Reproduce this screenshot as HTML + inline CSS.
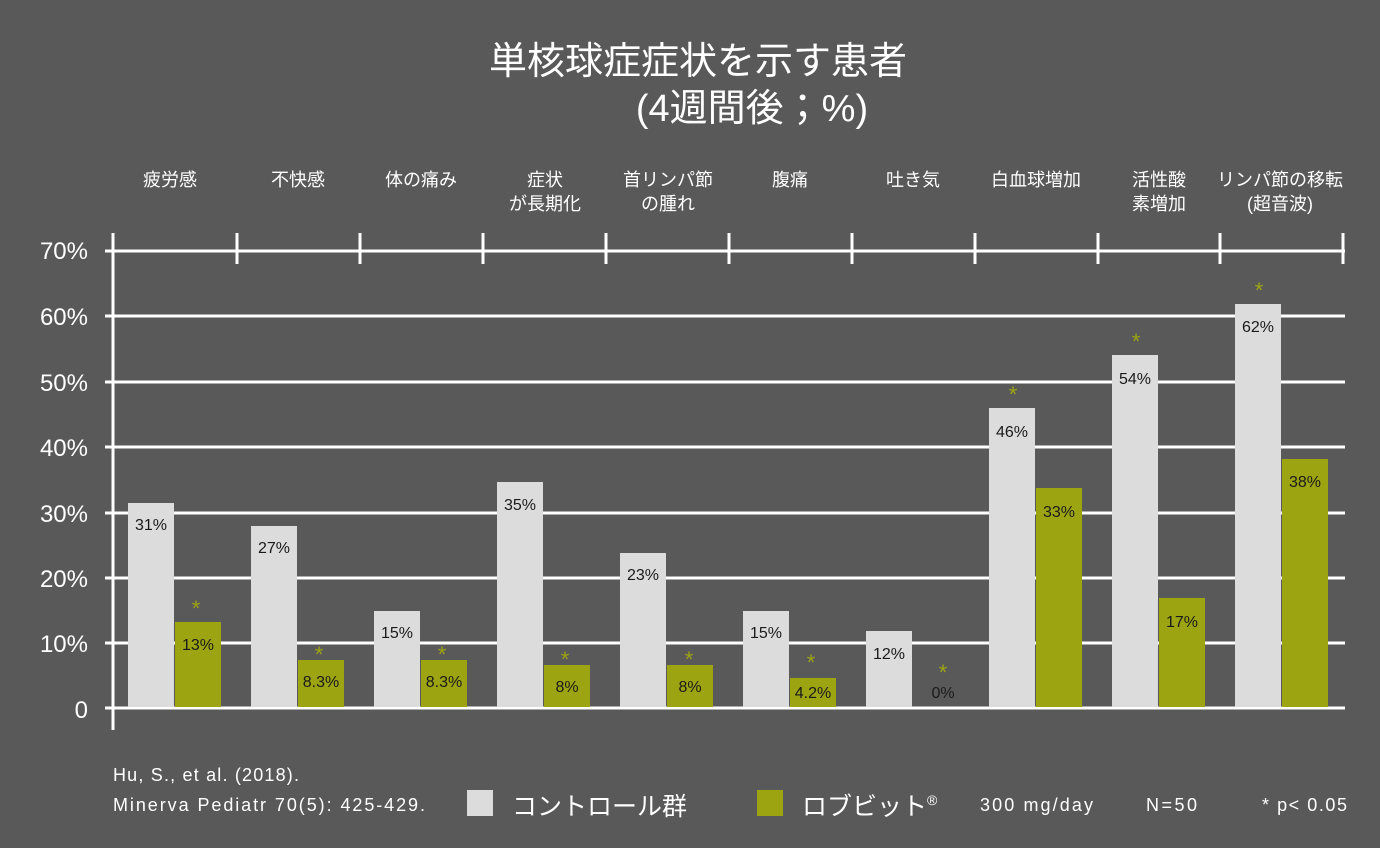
<!DOCTYPE html><html><head><meta charset="utf-8"><style>
body{margin:0;background:#59595a;}
svg text{font-family:"Liberation Sans","Noto Sans CJK JP",sans-serif;}
.n{font-family:"Liberation Sans Narrow","Liberation Sans",sans-serif;}
</style></head><body>
<svg width="1380" height="843" viewBox="0 0 1380 843">
<rect width="1380" height="843" fill="#59595a"/>
<text x="698" y="74" fill="#fff" font-size="38" text-anchor="middle">単核球症症状を示す患者</text>
<text x="752" y="121" fill="#fff" font-size="38" text-anchor="middle">(4週間後；%)</text>
<g fill="#fff" font-size="18" text-anchor="middle">
<text x="170" y="186">疲労感</text><text x="298" y="186">不快感</text><text x="421" y="186">体の痛み</text>
<text x="545" y="186">症状</text><text x="545" y="210">が長期化</text>
<text x="668" y="186">首リンパ節</text><text x="668" y="210">の腫れ</text>
<text x="790" y="186">腹痛</text><text x="913" y="186">吐き気</text><text x="1036" y="186">白血球増加</text>
<text x="1159" y="186">活性酸</text><text x="1159" y="210">素増加</text>
<text x="1280" y="186">リンパ節の移転</text><text x="1280" y="210">(超音波)</text>
</g>
<g stroke="#fff" stroke-width="3">
<line x1="105" y1="251" x2="1345" y2="251"/><line x1="105" y1="316" x2="1345" y2="316"/>
<line x1="105" y1="382" x2="1345" y2="382"/><line x1="105" y1="447" x2="1345" y2="447"/>
<line x1="105" y1="513" x2="1345" y2="513"/><line x1="105" y1="578" x2="1345" y2="578"/>
<line x1="105" y1="643" x2="1345" y2="643"/><line x1="105" y1="708" x2="1345" y2="708"/>
<line x1="113" y1="233" x2="113" y2="730"/>
<line x1="237" y1="233" x2="237" y2="264"/><line x1="360" y1="233" x2="360" y2="264"/>
<line x1="483" y1="233" x2="483" y2="264"/><line x1="606" y1="233" x2="606" y2="264"/>
<line x1="729" y1="233" x2="729" y2="264"/><line x1="852" y1="233" x2="852" y2="264"/>
<line x1="975" y1="233" x2="975" y2="264"/><line x1="1098" y1="233" x2="1098" y2="264"/>
<line x1="1220" y1="233" x2="1220" y2="264"/><line x1="1343" y1="233" x2="1343" y2="264"/>
</g>
<g fill="#fff" font-size="24" text-anchor="end" class="n">
<text x="88" y="259">70%</text><text x="88" y="325">60%</text><text x="88" y="391">50%</text>
<text x="88" y="456">40%</text><text x="88" y="522">30%</text><text x="88" y="587">20%</text>
<text x="88" y="652">10%</text><text x="88" y="718">0</text>
</g>
<g fill="#dddcdd">
<rect x="128" y="503" width="46" height="204"/><rect x="251" y="526" width="46" height="181"/>
<rect x="374" y="611" width="46" height="96"/><rect x="497" y="482" width="46" height="225"/>
<rect x="620" y="553" width="46" height="154"/><rect x="743" y="611" width="46" height="96"/>
<rect x="866" y="631" width="46" height="76"/><rect x="989" y="408" width="46" height="299"/>
<rect x="1112" y="355" width="46" height="352"/><rect x="1235" y="304" width="46" height="403"/>
</g>
<g fill="#9da412">
<rect x="175" y="622" width="46" height="85"/><rect x="298" y="660" width="46" height="47"/>
<rect x="421" y="660" width="46" height="47"/><rect x="544" y="665" width="46" height="42"/>
<rect x="667" y="665" width="46" height="42"/><rect x="790" y="678" width="46" height="29"/>
<rect x="1036" y="488" width="46" height="219"/><rect x="1159" y="598" width="46" height="109"/>
<rect x="1282" y="459" width="46" height="248"/>
</g>
<g fill="#1a1a1a" font-size="16" text-anchor="middle" class="n">
<text x="151" y="530">31%</text><text x="274" y="553">27%</text><text x="397" y="638">15%</text>
<text x="520" y="510">35%</text><text x="643" y="580">23%</text><text x="766" y="638">15%</text>
<text x="889" y="659">12%</text><text x="1012" y="437">46%</text><text x="1135" y="384">54%</text>
<text x="1258" y="332">62%</text>
<text x="198" y="650">13%</text><text x="321" y="687">8.3%</text><text x="444" y="687">8.3%</text>
<text x="567" y="692">8%</text><text x="690" y="692">8%</text><text x="813" y="698">4.2%</text>
<text x="943" y="698">0%</text><text x="1059" y="517">33%</text><text x="1182" y="627">17%</text>
<text x="1305" y="487">38%</text>
</g>
<g fill="#9da412" font-size="22" text-anchor="middle">
<text x="196" y="616">*</text><text x="319" y="662">*</text><text x="442" y="662">*</text>
<text x="565" y="667">*</text><text x="689" y="667">*</text><text x="811" y="670">*</text>
<text x="943" y="680">*</text><text x="1013" y="402">*</text><text x="1136" y="349">*</text>
<text x="1259" y="298">*</text>
</g>
<g fill="#fff" font-size="18" class="n">
<text x="113" y="781" textLength="186" lengthAdjust="spacing">Hu, S., et al. (2018).</text>
<text x="113" y="811" textLength="312" lengthAdjust="spacing">Minerva Pediatr 70(5): 425-429.</text>
<text x="980" y="811" textLength="113" lengthAdjust="spacing">300 mg/day</text>
<text x="1146" y="811" textLength="51" lengthAdjust="spacing">N=50</text>
<text x="1262" y="811" textLength="85" lengthAdjust="spacing">* p&lt; 0.05</text>
</g>
<rect x="467" y="790" width="26" height="26" fill="#dddcdd"/>
<rect x="757" y="790" width="26" height="26" fill="#9da412"/>
<text x="512" y="815" fill="#fff" font-size="25">コントロール群</text>
<text x="802" y="815" fill="#fff" font-size="25">ロブビット<tspan font-size="14" dy="-10">®</tspan></text>
</svg>
</body></html>
